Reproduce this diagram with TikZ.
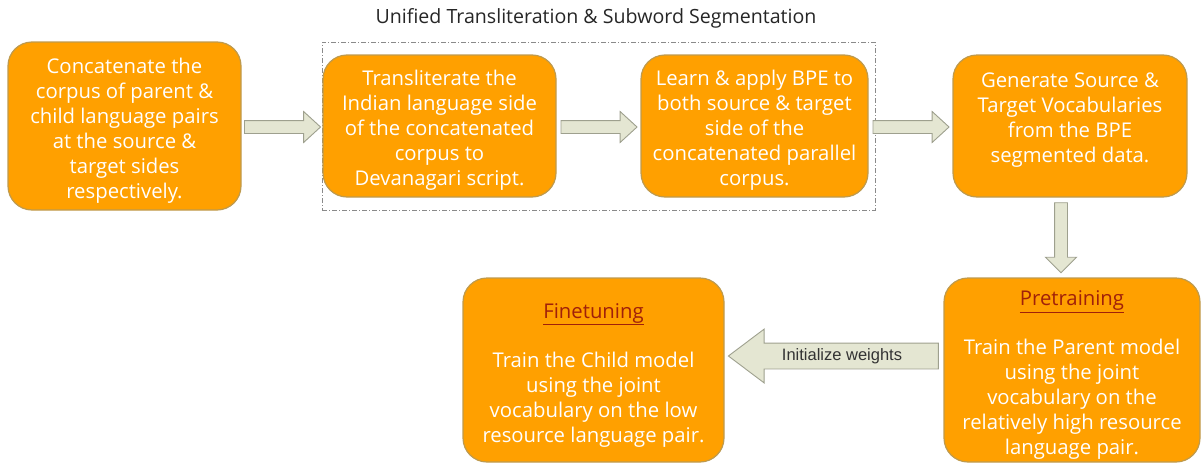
\documentclass[tikz,border=0pt]{standalone}
\usepackage{fontspec}
\setmainfont{Open Sans}
\newfontfamily\arialfont{Liberation Sans}
\usetikzlibrary{shapes.arrows,calc}
\definecolor{boxorange}{HTML}{FFA000}
\definecolor{boxedge}{HTML}{BE9A4E}
\definecolor{arrfill}{HTML}{E4E6D2}
\definecolor{arredge}{HTML}{9EA08E}
\definecolor{headred}{HTML}{A0200A}
\definecolor{grpgray}{HTML}{8A8A8A}
\begin{document}
\begin{tikzpicture}[x=1pt,y=1pt,
  procbox/.style={draw=boxedge, line width=1.2pt, fill=boxorange, rounded corners=24pt, inner sep=0pt},
  boxtext/.style={text=white, align=center, font=\fontsize{20.3}{25}\selectfont, inner sep=0pt},
  blockarr/.style={single arrow, draw=arredge, fill=arrfill, line width=0.9pt, inner sep=6pt,
     single arrow head extend=9pt, single arrow tip angle=85, minimum height=76pt},
  groupbox/.style={draw=grpgray, line width=0.8pt, dash pattern=on 5pt off 2pt on 1pt off 2pt, inner sep=0pt},
]
\useasboundingbox (0,0) rectangle (1201,-463);

% group frame and title
\node[groupbox, minimum width=553pt, minimum height=168pt] (grp) at (598.5,-126) {};
\node[font=\fontsize{19.6}{22}\selectfont, text=black!85] (title) at (596,-18) {Unified Transliteration \& Subword Segmentation};

% boxes
\node[procbox, minimum width=233pt, minimum height=168pt] (b1) at (124.5,-126) {};
\node[procbox, minimum width=233pt, minimum height=142pt] (b2) at (439.5,-126) {};
\node[procbox, minimum width=227pt, minimum height=142pt] (b3) at (754.5,-126) {};
\node[procbox, minimum width=234pt, minimum height=142pt] (b4) at (1070,-126) {};
\node[procbox, minimum width=256pt, minimum height=184pt] (b5) at (1072,-370) {};
\node[procbox, minimum width=261pt, minimum height=184pt] (b6) at (593.5,-370) {};

% texts
\node[boxtext] (t1) at ($(b1.center)+(0,-5)$) {Concatenate the\\corpus of parent \&\\child language pairs\\at the source \&\\target sides\\respectively.};
\node[boxtext] (t2) at ($(b2.center)+(0,-4)$) {Transliterate the\\Indian language side\\of the concatenated\\corpus to\\Devanagari script.};
\node[boxtext] (t3) at ($(b3.center)+(0,-4)$) {Learn \& apply BPE to\\both source \& target\\side of the\\concatenated parallel\\corpus.};
\node[boxtext] (t4) at ($(b4.center)+(0,6)$) {Generate Source \&\\Target Vocabularies\\from the BPE\\segmented data.};
\node[boxtext] (t5) at ($(b5.center)+(0,-5)$) {{\color{headred}\underline{Pretraining}}\\[24pt]Train the Parent model\\using the joint\\vocabulary on the\\relatively high resource\\language pair.};
\node[boxtext] (t6) at ($(b6.center)+(0,-5)$) {{\color{headred}\underline{Finetuning}}\\[24pt]Train the Child model\\using the joint\\vocabulary on the low\\resource language pair.};

% arrows
\node[blockarr] (a1) at ($(b1.east)!0.5!(b2.west)+(-3,-1)$) {};
\node[blockarr] (a2) at ($(b2.east)!0.5!(b3.west)+(-3,-1)$) {};
\node[blockarr] (a3) at ($(b3.east)!0.5!(b4.west)+(-3,-1)$) {};
\node[blockarr, shape border rotate=270, minimum height=70pt, single arrow tip angle=90] (a4) at ($(b4.south)!0.5!(b5.north)+(-10,3)$) {};
\node[blockarr, shape border rotate=180, minimum height=210pt, inner sep=12.5pt,
      single arrow head extend=14pt, single arrow tip angle=74] (a5) at ($(b6.east)!0.5!(b5.west)+(8,14)$) {};
\node[font=\arialfont\fontsize{16.5}{18}\selectfont, text=black!80] (a5l) at (842,-356) {Initialize weights};
\end{tikzpicture}
\end{document}
